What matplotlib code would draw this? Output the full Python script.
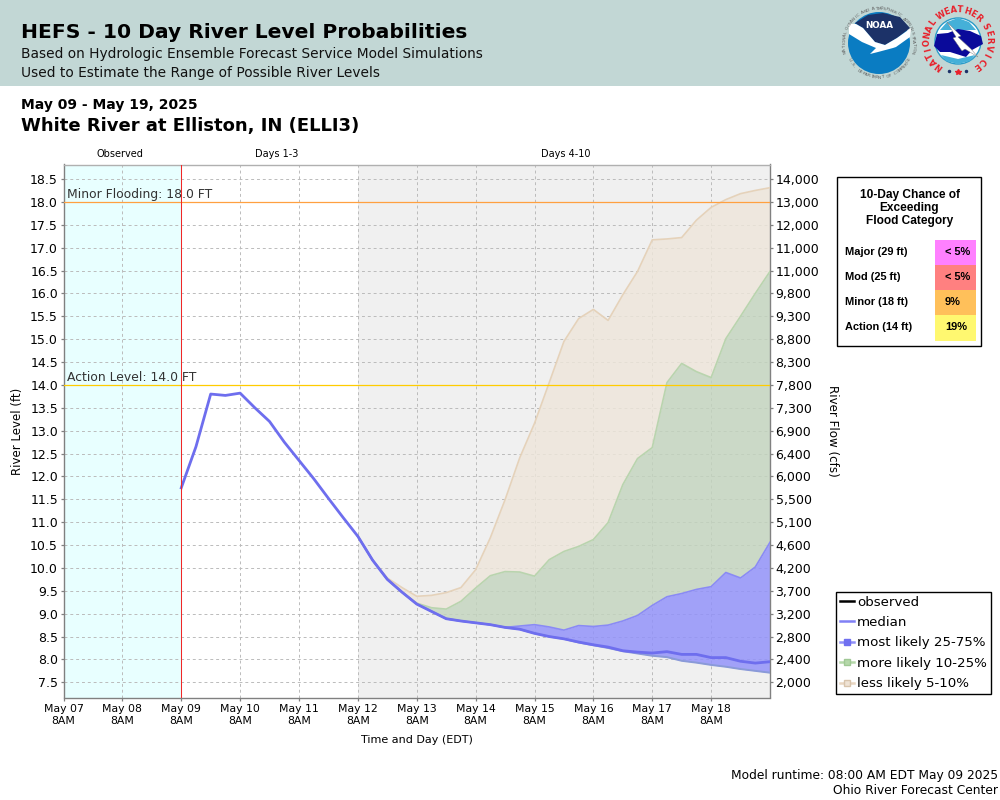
import numpy as np
import matplotlib
matplotlib.use("Agg")
import matplotlib.pyplot as plt
from matplotlib.lines import Line2D
from matplotlib.patches import Rectangle, Circle, Polygon

# ---------- data ----------
x_labels = ["May 07\n8AM", "May 08\n8AM", "May 09\n8AM", "May 10\n8AM", "May 11\n8AM", "May 12\n8AM",
            "May 13\n8AM", "May 14\n8AM", "May 15\n8AM", "May 16\n8AM", "May 17\n8AM", "May 18\n8AM"]
level_ticks = [18.5, 18.0, 17.5, 17.0, 16.5, 16.0, 15.5, 15.0, 14.5, 14.0, 13.5, 13.0, 12.5, 12.0,
               11.5, 11.0, 10.5, 10.0, 9.5, 9.0, 8.5, 8.0, 7.5]
flow_labels = ["14,000", "13,000", "12,000", "11,000", "11,000", "9,800", "9,300", "8,800", "8,300", "7,800",
               "7,300", "6,900", "6,400", "6,000", "5,500", "5,100", "4,600", "4,200", "3,700", "3,200",
               "2,800", "2,400", "2,000"]
# six-hourly forecast steps, from May 09 8AM
forecast_hours = [48 + 6 * i for i in range(41)]
median = [11.75, 12.65, 13.80, 13.77, 13.82, 13.50, 13.20, 12.75, 12.35, 11.95, 11.52, 11.10,
          10.69, 10.17, 9.75, 9.47, 9.21, 9.05, 8.89, 8.84, 8.80, 8.76, 8.70, 8.66,
          8.57, 8.50, 8.45, 8.38, 8.32, 8.27, 8.19, 8.16, 8.14, 8.17, 8.11, 8.11,
          8.04, 8.04, 7.96, 7.92, 7.95]
low_bound = [11.75, 12.65, 13.80, 13.77, 13.82, 13.50, 13.20, 12.75, 12.35, 11.95, 11.52, 11.10,
             10.69, 10.17, 9.75, 9.47, 9.21, 9.05, 8.89, 8.84, 8.80, 8.76, 8.70, 8.66,
             8.57, 8.50, 8.45, 8.37, 8.31, 8.25, 8.18, 8.13, 8.08, 8.05, 7.97, 7.93,
             7.88, 7.84, 7.79, 7.75, 7.71]
most_upper = [11.75, 12.65, 13.80, 13.77, 13.82, 13.50, 13.20, 12.75, 12.35, 11.95, 11.52, 11.10,
              10.69, 10.17, 9.75, 9.47, 9.21, 9.05, 8.89, 8.84, 8.80, 8.76, 8.70, 8.73,
              8.76, 8.71, 8.64, 8.74, 8.72, 8.75, 8.84, 8.96, 9.18, 9.37, 9.44, 9.53,
              9.59, 9.90, 9.78, 10.02, 10.56]
more_upper = [11.75, 12.65, 13.80, 13.77, 13.82, 13.50, 13.20, 12.75, 12.35, 11.95, 11.52, 11.10,
              10.69, 10.17, 9.75, 9.47, 9.23, 9.13, 9.10, 9.27, 9.56, 9.83, 9.92, 9.91,
              9.82, 10.18, 10.36, 10.47, 10.62, 10.99, 11.82, 12.39, 12.63, 14.05, 14.47, 14.29,
              14.16, 15.01, 15.50, 16.00, 16.48]
less_upper = [11.75, 12.65, 13.80, 13.77, 13.82, 13.50, 13.20, 12.75, 12.35, 11.95, 11.52, 11.10,
              10.69, 10.17, 9.78, 9.57, 9.38, 9.40, 9.46, 9.57, 9.96, 10.66, 11.49, 12.41,
              13.16, 14.05, 14.95, 15.45, 15.65, 15.41, 15.97, 16.48, 17.17, 17.19, 17.22, 17.60,
              17.88, 18.05, 18.18, 18.25, 18.31]
chance_rows = ["Major (29 ft)", "Mod (25 ft)", "Minor (18 ft)", "Action (14 ft)"]
chance_vals = ["< 5%", "< 5%", "9%", "19%"]
chance_cols = ["#FF80FF", "#FF8080", "#FFC05A", "#FFF870"]

W, H = 1000, 800
fig = plt.figure(figsize=(W / 100, H / 100), dpi=100, facecolor="white")
plt.rcParams["font.family"] = "DejaVu Sans"


def rect(l, t, r, b):
    return [l / W, 1 - b / H, (r - l) / W, (b - t) / H]


# overlay in pixel coordinates for page furniture
page = fig.add_axes([0, 0, 1, 1], zorder=0)
page.set_xlim(0, W)
page.set_ylim(H, 0)
page.axis("off")
page.add_patch(Rectangle((0, 0), W, 86, fc="#C2D7D5", ec="none"))
page.text(21, 33, "HEFS - 10 Day River Level Probabilities", fontsize=14.55, fontweight="bold", va="center")
page.text(21, 54, "Based on Hydrologic Ensemble Forecast Service Model Simulations", fontsize=9.9, va="center", color="#111111")
page.text(21, 73, "Used to Estimate the Range of Possible River Levels", fontsize=9.9, va="center", color="#111111")
page.text(21, 105, "May 09 - May 19, 2025", fontsize=10, fontweight="bold", va="center")
page.text(21, 126, "White River at Elliston, IN (ELLI3)", fontsize=13, fontweight="bold", va="center")
page.text(120, 154, "Observed", fontsize=7, ha="center", va="center")
page.text(276.5, 154, "Days 1-3", fontsize=7, ha="center", va="center")
page.text(566, 154, "Days 4-10", fontsize=7, ha="center", va="center")
page.text(18, 431, "River Level (ft)", fontsize=8.5, rotation=90, ha="center", va="center")
page.text(832, 431, "River Flow (cfs)", fontsize=8.6, rotation=270, ha="center", va="center")
page.text(417, 740, "Time and Day (EDT)", fontsize=8, ha="center", va="center")
page.text(998, 775, "Model runtime: 08:00 AM EDT May 09 2025", fontsize=8.85, ha="right", va="center")
page.text(998, 791, "Ohio River Forecast Center", fontsize=8.85, ha="right", va="center")


def ring(text, c_x, c_y, r, start, stop, fs, col, weight="normal", bottom=False):
    for ch, ang in zip(text, np.linspace(start, stop, len(text))):
        a = np.deg2rad(ang)
        if bottom:
            pos = (c_x + r * np.sin(a), c_y + r * np.cos(a))
            rot = ang
        else:
            pos = (c_x + r * np.sin(a), c_y - r * np.cos(a))
            rot = -ang
        page.text(pos[0], pos[1], ch, fontsize=fs, color=col, fontweight=weight, rotation=rot,
                  rotation_mode="anchor", ha="center", va="center", zorder=6)


# NOAA logo
cx, cy = 879, 43
page.add_patch(Circle((cx, cy), 31, fc="#0A7CC2", ec="none", zorder=2))
page.add_patch(Polygon([(855, 23), (868, 15), (883, 13), (900, 17), (910, 28), (897, 38), (885, 45), (875, 42), (863, 28)],
                       fc="#1C3268", ec="none", zorder=3))
page.add_patch(Polygon([(849, 24), (856, 24), (863, 28), (875, 42), (885, 45), (897, 38), (911, 28), (910, 37), (896, 47), (893, 48),
                        (878, 52), (870, 54), (876, 48), (862, 42), (849, 34)], fc="white", ec="none", zorder=4))
page.text(cx, 26, "NOAA", fontsize=6.3, fontweight="bold", color="white", ha="center", va="center", zorder=5)
ring("NATIONAL OCEANIC AND ATMOSPHERIC ADMINISTRATION", cx, cy, 34.5, -105, 105, 3.2, "#606060")
ring("U.S. DEPARTMENT OF COMMERCE", cx, cy, 34.5, -60, 62, 3.2, "#606060", bottom=True)

# NWS logo
nx, ny = 958, 41
page.add_patch(Circle((nx, ny), 23, fc="white", ec="#2A9BC8", lw=1, zorder=2))
page.add_patch(Polygon([(940, 30), (947, 22), (958, 18), (969, 22), (976, 30)], fc="#45B0D8", ec="none", zorder=3))
page.add_patch(Polygon([(934, 46), (937, 34), (948, 33), (958, 29), (970, 31), (981, 36), (983, 44), (972, 50), (966, 57), (950, 52), (940, 52)],
                       fc="#0A0A9A", ec="none", zorder=4))
page.add_patch(Polygon([(941, 55), (958, 59), (975, 55), (970, 61), (958, 64), (946, 61)], fc="#45B0D8", ec="none", zorder=3))
page.add_patch(Polygon([(947, 22), (961, 36), (958, 37), (971, 49), (978, 57), (965, 49), (962, 51), (953, 38), (956, 37)],
                       fc="white", ec="#777777", lw=0.3, zorder=5))
ring("NATIONAL", nx, ny, 31, -143, -54, 6, "#E8202A", "bold")
ring("WEATHER", nx, ny, 31, -33, 42, 6, "#E8202A", "bold")
ring("SERVICE", nx, ny, 31, 62, 143, 6, "#E8202A", "bold")
page.plot([949, 966], [71, 71], ls="none", marker="o", ms=1.5, color="#1C3268", zorder=5)
page.plot([958], [72], ls="none", marker="*", ms=4, color="#E8202A", zorder=5)

# ---------- main chart ----------
ax = fig.add_axes(rect(63.5, 164.5, 770, 697.5), zorder=2)
ax.set_xlim(0, 12)
ax.set_ylim(7.168, 18.817)
ax.axvspan(0, 2, fc="#E8FFFF", ec="none", zorder=0)
ax.axvspan(5, 12, fc="#F0F0F0", ec="none", zorder=0)
ax.set_xticks(range(12))
ax.set_xticklabels(x_labels, fontsize=7.8, linespacing=1.2)
ax.set_yticks(level_ticks)
ax.set_yticklabels([f"{v:.1f}" for v in level_ticks], fontsize=9, va="center_baseline")
ax.grid(True, ls=(0, (3, 3)), lw=0.7, color="#BBBBBB", zorder=1)
ax.set_axisbelow(True)
ax.tick_params(axis="both", length=2.5, width=0.9, color="#808080", pad=1.5)
ax.tick_params(axis="x", pad=2.3)
for s in ax.spines.values():
    s.set_color("#808080")
    s.set_linewidth(1)
ax.spines["top"].set_color("#B0B0B0")

t = np.array(forecast_hours) / 24
i0 = 12
band = dict(alpha=0.82, lw=0, zorder=2)
ax.fill_between(t[i0:], more_upper[i0:], less_upper[i0:], color="#EEE6DA", **band)
ax.fill_between(t[i0:], most_upper[i0:], more_upper[i0:], color="#C3D4BE", **band)
ax.fill_between(t[i0:], low_bound[i0:], most_upper[i0:], color="#9090FB", **band)
ax.plot(t[i0:], less_upper[i0:], color="#E5D2BA", lw=1.2, zorder=3)
ax.plot(t[i0:], more_upper[i0:], color="#B9D4AE", lw=1.2, zorder=3)
ax.plot(t[i0:], most_upper[i0:], color="#8A8AF5", lw=1.2, zorder=3)
ax.plot(t[i0:], low_bound[i0:], color="#8A9AD8", lw=1.4, zorder=3)
ax.plot(t, median, color="#6E6EEE", lw=2.0, zorder=4, solid_joinstyle="round")

ax.axhline(18, color="#FFA040", lw=0.9, zorder=5)
ax.axhline(14, color="#FFCC00", lw=0.9, zorder=5)
ax.axvline(2, color="#F02828", lw=0.75, zorder=5)
ax.text(0.06, 18.02, "Minor Flooding: 18.0 FT", fontsize=8.9, color="#333333", va="bottom", zorder=6)
ax.text(0.06, 14.02, "Action Level: 14.0 FT", fontsize=8.9, color="#333333", va="bottom", zorder=6)

right = ax.twinx()
right.set_ylim(ax.get_ylim())
right.set_yticks(level_ticks)
right.set_yticklabels(flow_labels, fontsize=9, va="center_baseline")
right.tick_params(axis="y", length=2.5, width=0.9, color="#808080", pad=1.5)
for s in right.spines.values():
    s.set_visible(False)

# ---------- flood category box ----------
lib = "Liberation Sans"
box = fig.add_axes([0, 0, 1, 1], zorder=3)
box.set_xlim(0, W)
box.set_ylim(H, 0)
box.axis("off")
box.patch.set_alpha(0)
box.add_patch(Rectangle((836.5, 176.5), 144, 169, fc="white", ec="black", lw=1))
for line, yy in zip(["10-Day Chance of", "Exceeding", "Flood Category"], [195, 208, 221]):
    box.text(909.5, yy, line, family=lib, fontweight="bold", fontsize=8.6, ha="center", va="center")
cell_t = [240, 265, 290, 315]
cell_b = [265, 290, 315, 341]
for name, val, col, top, bot in zip(chance_rows, chance_vals, chance_cols, cell_t, cell_b):
    box.add_patch(Rectangle((935, top), 41, bot - top, fc=col, ec="none"))
    mid = (top + bot) / 2 - 0.5
    box.text(845, mid, name, family=lib, fontweight="bold", fontsize=7.9, va="center")
    box.text(945, mid, val, family=lib, fontweight="bold", fontsize=7.9, va="center")

# ---------- legend ----------
handles = [
    Line2D([], [], color="black", lw=1.8),
    Line2D([], [], color="#8080F5", lw=1.8),
    Line2D([], [], color="#9090F8", lw=1.8, marker="s", ms=5, mfc="#7070F0", mec="#7070F0"),
    Line2D([], [], color="#B5D8AA", lw=1.8, marker="s", ms=5, mfc="#B5D8AA", mec="#A0C895"),
    Line2D([], [], color="#E8D5C0", lw=1.8, marker="s", ms=5, mfc="#EFE3D5", mec="#D8C4AC"),
]
labels = ["observed", "median", "most likely 25-75%", "more likely 10-25%", "less likely 5-10%"]
leg = box.legend(handles, labels, loc="upper left", bbox_to_anchor=(835.5 / W, 1 - 591.5 / H),
                 bbox_transform=fig.transFigure, fontsize=9.6, frameon=True, fancybox=False, edgecolor="black",
                 framealpha=1, borderaxespad=0, borderpad=0.3, labelspacing=0.56, handlelength=1.1,
                 handletextpad=0.22)
leg.get_frame().set_linewidth(1)

fig.savefig("out.png", dpi=100, facecolor="white")
